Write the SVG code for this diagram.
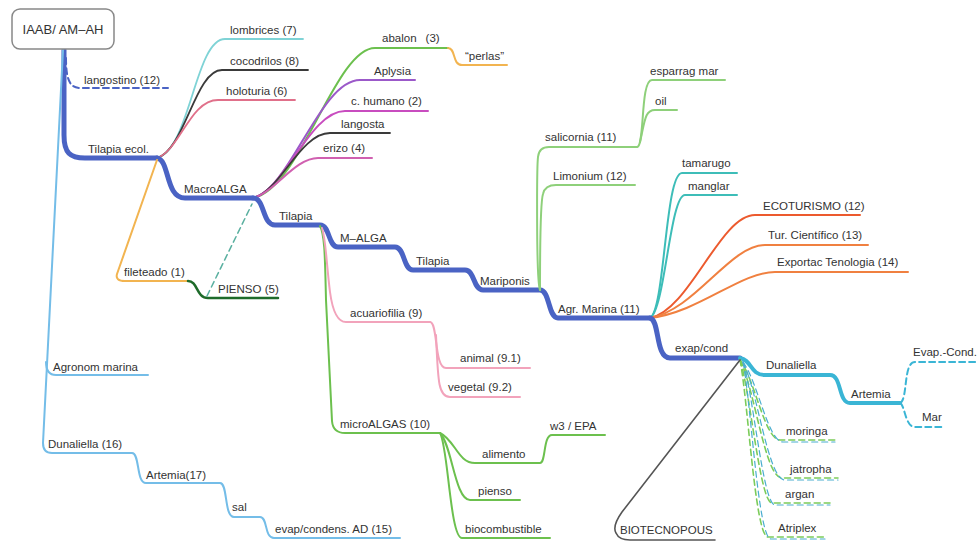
<svg xmlns="http://www.w3.org/2000/svg" width="978" height="551" viewBox="0 0 978 551">
<style>
text{font-family:"Liberation Sans",Arial,sans-serif;font-size:11.5px;fill:#333}
.c{fill:none;stroke-linecap:round;stroke-linejoin:round}
.tr{stroke:#4a63c4;stroke-width:5}
.lb{stroke:#74bde8;stroke-width:2}
.tl{stroke:#3ab5d5;stroke-width:4}
.gr{stroke:#6cc04e;stroke-width:2}
.pk{stroke:#f2a3bb;stroke-width:2}
.or{stroke:#f2b450;stroke-width:2}
.rd{stroke:#ec5a2e;stroke-width:2}
.oo{stroke:#f08040;stroke-width:2}
.tq{stroke:#3dbdb8;stroke-width:2}
.dk{stroke:#3a3a3a;stroke-width:1.8}
.da{stroke-dasharray:6 4}
</style>
<g id="connectors">
<path class="c tr" d="M64,50 L64,135 C64,153 70,158 85,158 L157,158"/>
<path class="c da" stroke="#4a63c4" stroke-width="2" d="M66,58 C66,80 70,88 80,88 L168,88"/>
<path class="c lb" d="M63,50 L43,443 Q43,453 52,453 L132,453 C140,453 136,483 146,483 L220,483 C228,483 224,517 234,517 L260,517 C268,517 264,538 274,538 L400,538"/>
<path class="c lb" d="M46,362 Q46,375 56,375 L148,375"/>
<path class="c" stroke="#7fd3d6" stroke-width="1.8" d="M157,158 C190,150 195,39 225,39 L303,39"/>
<path class="c dk" d="M157,158 C185,150 195,70 222,70 L308,70"/>
<path class="c" stroke="#e0708a" stroke-width="1.8" d="M157,158 C180,150 190,100 218,100 L295,100"/>
<path class="c tr" d="M157,158 C170,160 165,198 185,198 L253,198"/>
<path class="c or" d="M157,160 L117,274 Q115,281 125,281 L188,281"/>
<path class="c" stroke="#1e6b2a" stroke-width="2.5" d="M188,281 C198,281 196,298 208,298 L278,298"/>
<path class="c da" stroke="#5ab0a0" stroke-width="1.5" d="M207,296 L252,204"/>
<path class="c gr" d="M253,198 C300,190 335,48 375,48 L448,48"/>
<path class="c or" d="M448,48 C456,48 452,65 462,65 L507,65"/>
<path class="c" stroke="#9b59c9" stroke-width="2" d="M253,198 C290,190 320,80 360,80 L415,80"/>
<path class="c" stroke="#c84cbf" stroke-width="2" d="M253,198 C285,190 310,111 345,111 L428,111"/>
<path class="c dk" d="M253,198 C280,192 300,133 330,133 L390,133"/>
<path class="c" stroke="#d060b0" stroke-width="2" d="M253,198 C275,192 295,158 318,158 L372,158"/>
<path class="c tr" d="M253,198 C265,198 262,225 275,225 L320,225 C330,225 328,247 338,247 L395,247 C405,247 403,270 413,270 L465,270 C475,270 473,290 483,290 L540,290 C550,290 548,318 558,318 L650,318"/>
<path class="c gr" d="M320,226 C325,235 325,260 326,300 L332,421 Q333,433 345,433 L440,433"/>
<path class="c pk" d="M322,228 C326,240 326,260 330,292 Q334,322 346,322 L430,322"/>
<path class="c pk" d="M430,322 C438,322 434,368 446,368 L530,368"/>
<path class="c pk" d="M436,335 C438,380 438,397 450,397 L520,397"/>
<path class="c gr" d="M440,433 C455,440 458,463 475,463 L540,463 C546,463 543,435 552,435 L605,435"/>
<path class="c gr" d="M440,433 C452,445 455,500 470,500 L520,500"/>
<path class="c gr" d="M440,433 C448,445 450,538 462,538 L550,538"/>
<path class="c" stroke="#8ed07a" stroke-width="2" d="M540,290 C536,280 537,165 538,157 Q539,147 549,147 L637,147"/>
<path class="c" stroke="#8ed07a" stroke-width="2" d="M540,290 C540,250 541,200 543,194 Q545,185 556,185 L635,185"/>
<path class="c" stroke="#8ed07a" stroke-width="2" d="M637,147 C645,147 640,80 652,80 L725,80"/>
<path class="c" stroke="#8ed07a" stroke-width="2" d="M640,142 C645,120 645,110 655,110 L677,110"/>
<path class="c tq" d="M650,318 C665,310 665,173 682,173 L737,173"/>
<path class="c tq" d="M650,318 C665,310 670,195 685,195 L737,195"/>
<path class="c rd" d="M650,318 C690,310 720,215 755,215 L860,215"/>
<path class="c oo" d="M650,318 C695,310 730,245 765,245 L868,245"/>
<path class="c oo" d="M650,318 C700,312 740,272 775,272 L908,272"/>
<path class="c tr" d="M650,318 C660,320 655,358 670,358 L740,358"/>
<path class="c tl" d="M740,358 C752,360 750,375 765,375 L830,375 C842,375 838,403 850,403 L900,403"/>
<path class="c da" stroke="#3ab5d5" stroke-width="2" d="M900,403 C908,400 903,362 915,362 L978,362"/>
<path class="c da" stroke="#3ab5d5" stroke-width="2" d="M900,403 C905,405 905,427 915,427 L945,427"/>
<path class="c da" stroke="#7ccc5a" stroke-width="1.6" d="M740,360 C755,380 765,440 780,440 L835,440"/>
<path class="c da" stroke="#4aaed0" stroke-width="1.2" d="M743,362 C758,382 768,442 783,442 L835,442"/>
<path class="c da" stroke="#7ccc5a" stroke-width="1.6" d="M740,360 C755,390 765,478 782,478 L838,478"/>
<path class="c da" stroke="#4aaed0" stroke-width="1.2" d="M743,362 C758,392 768,480 785,480 L838,480"/>
<path class="c da" stroke="#7ccc5a" stroke-width="1.6" d="M740,360 C750,390 760,503 772,503 L830,503"/>
<path class="c da" stroke="#4aaed0" stroke-width="1.2" d="M743,362 C753,392 763,505 775,505 L830,505"/>
<path class="c da" stroke="#7ccc5a" stroke-width="1.6" d="M740,360 C748,400 755,537 768,537 L825,537"/>
<path class="c da" stroke="#4aaed0" stroke-width="1.2" d="M743,362 C751,402 758,539 771,539 L825,539"/>
<path class="c" stroke="#555" stroke-width="1.6" d="M740,360 L622,512 Q612,526 616,533 Q619,540 630,540 L715,540"/>
</g>
<g id="root"><rect x="12" y="9" width="102" height="40" rx="8" fill="#fff" stroke="#888" stroke-width="1.5"/><text x="63" y="34" text-anchor="middle" style="font-size:13px">IAAB/ AM–AH</text></g>
<g id="n-langostino"><text x="84" y="84">langostino (12)</text></g>
<g id="n-tilapia-ecol"><text x="88" y="153">Tilapia ecol.</text></g>
<g id="n-lombrices"><text x="230" y="34">lombrices (7)</text></g>
<g id="n-cocodrilos"><text x="230" y="65">cocodrilos (8)</text></g>
<g id="n-holoturia"><text x="226" y="95">holoturia (6)</text></g>
<g id="n-macroalga"><text x="184" y="193">MacroALGA</text></g>
<g id="n-fileteado"><text x="124" y="276">fileteado (1)</text></g>
<g id="n-pienso5"><text x="218" y="293">PIENSO (5)</text></g>
<g id="n-abalon"><text x="382" y="42">abalon<tspan dx="9">(3)</tspan></text></g>
<g id="n-perlas"><text x="465" y="60">“perlas”</text></g>
<g id="n-aplysia"><text x="374" y="75">Aplysia</text></g>
<g id="n-chumano"><text x="351" y="105">c. humano (2)</text></g>
<g id="n-langosta"><text x="341" y="128">langosta</text></g>
<g id="n-erizo"><text x="323" y="152">erizo (4)</text></g>
<g id="n-tilapia1"><text x="279" y="220">Tilapia</text></g>
<g id="n-malga"><text x="340" y="242">M–ALGA</text></g>
<g id="n-tilapia2"><text x="416" y="265">Tilapia</text></g>
<g id="n-mariponis"><text x="480" y="285">Mariponis</text></g>
<g id="n-agrmarina"><text x="558" y="313">Agr. Marina (11)</text></g>
<g id="n-salicornia"><text x="545" y="141">salicornia (11)</text></g>
<g id="n-limonium"><text x="553" y="180">Limonium (12)</text></g>
<g id="n-esparrag"><text x="650" y="75">esparrag mar</text></g>
<g id="n-oil"><text x="655" y="105">oil</text></g>
<g id="n-tamarugo"><text x="682" y="167">tamarugo</text></g>
<g id="n-manglar"><text x="688" y="190">manglar</text></g>
<g id="n-ecoturismo"><text x="763" y="210">ECOTURISMO (12)</text></g>
<g id="n-turcientifico"><text x="768" y="239">Tur. Científico (13)</text></g>
<g id="n-exportac"><text x="777" y="266">Exportac Tenologia (14)</text></g>
<g id="n-exapcond"><text x="675" y="352">exap/cond</text></g>
<g id="n-dunaliella"><text x="766" y="369">Dunaliella</text></g>
<g id="n-artemia"><text x="851" y="398">Artemia</text></g>
<g id="n-evapcond"><text x="913" y="356">Evap.-Cond.</text></g>
<g id="n-mar"><text x="922" y="421">Mar</text></g>
<g id="n-moringa"><text x="786" y="435">moringa</text></g>
<g id="n-jatropha"><text x="790" y="473">jatropha</text></g>
<g id="n-argan"><text x="785" y="498">argan</text></g>
<g id="n-atriplex"><text x="778" y="532">Atriplex</text></g>
<g id="n-biotecnopous"><text x="620" y="534">BIOTECNOPOUS</text></g>
<g id="n-acuariofilia"><text x="350" y="317">acuariofilia (9)</text></g>
<g id="n-animal"><text x="460" y="362">animal (9.1)</text></g>
<g id="n-vegetal"><text x="448" y="391">vegetal (9.2)</text></g>
<g id="n-microalgas"><text x="340" y="428">microALGAS (10)</text></g>
<g id="n-w3epa"><text x="550" y="430">w3 / EPA</text></g>
<g id="n-alimento"><text x="482" y="458">alimento</text></g>
<g id="n-pienso"><text x="478" y="495">pienso</text></g>
<g id="n-biocombustible"><text x="465" y="533">biocombustible</text></g>
<g id="n-agronom"><text x="53" y="371">Agronom marina</text></g>
<g id="n-dunaliella16"><text x="48" y="448">Dunaliella (16)</text></g>
<g id="n-artemia17"><text x="146" y="479">Artemia(17)</text></g>
<g id="n-sal"><text x="232" y="511">sal</text></g>
<g id="n-evapcondens"><text x="275" y="533">evap/condens. AD (15)</text></g>
</svg>
